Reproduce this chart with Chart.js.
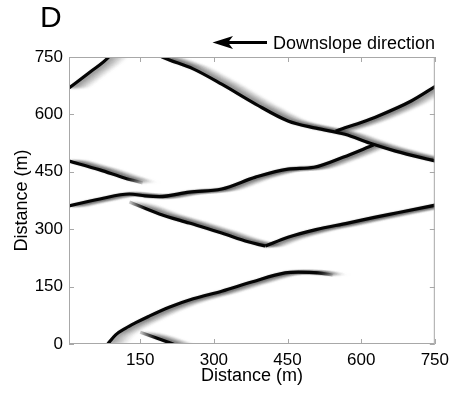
<!DOCTYPE html>
<html>
<head>
<meta charset="utf-8">
<script src="https://cdn.jsdelivr.net/npm/chart.js@4"></script>
<style>
    html, body { margin: 0; padding: 0; background: #fff; }
    #wrap { width: 455px; height: 394px; position: relative; }
</style>
</head>
<body>
<div id="wrap"><canvas id="frontChart"></canvas></div>
<script>
// Tick values (m)
const xTicks = [150, 300, 450, 600, 750];
const yTicks = [0, 150, 300, 450, 600, 750];

// Wave fronts: position along x (m) and y (m)
const frontAx = [5, 48, 86, 100];
const frontAy = [669, 711, 750, 775];

const frontBx = [160, 195, 258, 316, 385, 451, 508, 567, 617, 670, 752];
const frontBy = [775, 750, 719, 679, 627, 583, 564, 548, 525, 504, 478];

const frontCx = [548, 567, 600, 635, 702, 752];
const frontCy = [556, 565, 579, 596, 635, 674];

const frontDx = [5, 68, 128, 160, 189, 250, 316, 385, 451, 504, 563, 625];
const frontDy = [361, 379, 392, 387, 385, 397, 405, 436, 457, 462, 488, 520];

const frontEx = [5, 68, 118, 155];
const frontEy = [478, 455, 434, 421];

const frontGx = [128, 189, 250, 316, 370, 395, 405];
const frontGy = [371, 340, 316, 290, 267, 259, 256];

const frontHx = [405, 451, 508, 573, 627, 674, 752];
const frontHy = [256, 279, 299, 316, 331, 343, 363];

const frontIx = [84, 100, 120, 140, 167, 209, 258, 316, 377, 445, 472, 512, 542];
const frontIy = [0, 24, 41, 55, 72, 96, 118, 138, 162, 186, 188, 186, 180];

const frontJx = [150, 189, 223];
const frontJy = [31, 13, -3];

function toPoints(xs, ys) {
    return xs.map((x, i) => ({ x: x, y: ys[i] }));
}

// [x, y, fade] - fade softens the front where it dies out
const fronts = [
    [frontAx, frontAy, null], [frontBx, frontBy, null], [frontCx, frontCy, null],
    [frontDx, frontDy, null], [frontEx, frontEy, 'end'], [frontGx, frontGy, 'start'],
    [frontHx, frontHy, null], [frontIx, frontIy, 'end'], [frontJx, frontJy, 'start']
];

const fontFamily = "'Liberation Sans', Arial, Helvetica, sans-serif";
const ink = '#050505';

// Horizontal gradient so a front fades out over its last few pixels
function fadeColor(xs, fade) {
    return function(c) {
        const chart = c.chart;
        const sx = chart.scales && chart.scales.x;
        if (!fade || !sx) return ink;
        const p0 = sx.getPixelForValue(xs[0]);
        const p1 = sx.getPixelForValue(xs[xs.length - 1]);
        if (!isFinite(p0) || !isFinite(p1) || p1 <= p0) return ink;
        const f = Math.min(0.9, 16 / (p1 - p0));
        const g = chart.ctx.createLinearGradient(p0, 0, p1, 0);
        if (fade === 'end') {
            g.addColorStop(0, ink);
            g.addColorStop(1 - f, ink);
            g.addColorStop(1, 'rgba(5,5,5,0.15)');
        } else {
            g.addColorStop(0, 'rgba(5,5,5,0.2)');
            g.addColorStop(f, ink);
            g.addColorStop(1, ink);
        }
        return g;
    };
}

// Grey smear trailing each front in the +x direction
const trailPlugin = {
    id: 'trail',
    beforeDatasetsDraw(chart) {
        const { ctx, chartArea } = chart;
        ctx.save();
        ctx.beginPath();
        ctx.rect(chartArea.left, chartArea.top, chartArea.width, chartArea.height);
        ctx.clip();
        ctx.filter = 'blur(1.2px)';
        const steps = 22;
        chart.getSortedVisibleDatasetMetas().forEach(meta => {
            for (let k = steps; k >= 1; k--) {
                ctx.save();
                ctx.translate(k * 1.0, 0);
                ctx.globalAlpha = 0.13 * Math.pow(1 - k / (steps + 1), 1.3);
                meta.dataset.draw(ctx, chartArea);
                ctx.restore();
            }
        });
        ctx.restore();
    }
};

// Box, inward ticks on all four sides, panel letter and arrow
const framePlugin = {
    id: 'frame',
    afterDraw(chart) {
        const { ctx, chartArea: a, scales } = chart;
        const len = 5;
        ctx.save();
        ctx.strokeStyle = '#a8a8a8';
        ctx.lineWidth = 1;
        ctx.strokeRect(a.left + 0.5, a.top + 0.5, a.width - 1, a.height - 1);
        ctx.beginPath();
        xTicks.forEach(v => {
            const px = Math.round(scales.x.getPixelForValue(v)) + 0.5;
            ctx.moveTo(px, a.bottom); ctx.lineTo(px, a.bottom - len);
            ctx.moveTo(px, a.top); ctx.lineTo(px, a.top + len);
        });
        yTicks.forEach(v => {
            const py = Math.round(scales.y.getPixelForValue(v)) + 0.5;
            ctx.moveTo(a.left, py); ctx.lineTo(a.left + len, py);
            ctx.moveTo(a.right, py); ctx.lineTo(a.right - len, py);
        });
        ctx.stroke();

        ctx.fillStyle = '#000';
        ctx.textBaseline = 'alphabetic';
        ctx.font = '30px ' + fontFamily;
        ctx.fillText('D', 40, 27);

        ctx.font = '18px ' + fontFamily;
        ctx.fillText('Downslope direction', 273, 49);

        // arrow pointing left
        ctx.lineWidth = 3;
        ctx.strokeStyle = '#000';
        ctx.beginPath();
        ctx.moveTo(226, 42.5);
        ctx.lineTo(267, 42.5);
        ctx.stroke();
        ctx.beginPath();
        ctx.moveTo(212.5, 42.5);
        ctx.lineTo(233, 36);
        ctx.lineTo(228, 42.5);
        ctx.lineTo(233, 49);
        ctx.closePath();
        ctx.fill();
        ctx.restore();
    }
};

document.addEventListener('DOMContentLoaded', function() {
    Chart.defaults.font.family = fontFamily;
    Chart.defaults.color = '#000';

    const ctx = document.getElementById('frontChart');
    new Chart(ctx, {
        type: 'scatter',
        data: {
            datasets: fronts.map(f => ({
                data: toPoints(f[0], f[1]),
                showLine: true,
                borderColor: fadeColor(f[0], f[2]),
                borderWidth: 3.2,
                pointRadius: 0,
                cubicInterpolationMode: 'monotone',
                clip: 0
            }))
        },
        options: {
            responsive: true,
            maintainAspectRatio: false,
            animation: false,
            layout: { padding: { top: 57, right: 16, left: 0, bottom: 0 } },
            plugins: {
                legend: { display: false },
                tooltip: { enabled: false }
            },
            scales: {
                x: {
                    type: 'linear',
                    min: 5,
                    max: 750,
                    afterBuildTicks: s => { s.ticks = xTicks.map(v => ({ value: v })); },
                    afterFit: s => { s.height = 50; },
                    grid: { display: false, drawTicks: false },
                    border: { display: false },
                    ticks: { font: { size: 17 }, padding: 6, maxRotation: 0 },
                    title: {
                        display: true,
                        text: 'Distance (m)',
                        font: { size: 18 },
                        padding: { top: 0, bottom: 7 }
                    }
                },
                y: {
                    type: 'linear',
                    min: 0,
                    max: 750,
                    afterBuildTicks: s => { s.ticks = yTicks.map(v => ({ value: v })); },
                    afterFit: s => { s.width = 69; },
                    grid: { display: false, drawTicks: false },
                    border: { display: false },
                    ticks: { font: { size: 17 }, padding: 6 },
                    title: {
                        display: true,
                        text: 'Distance (m)',
                        font: { size: 18 },
                        padding: { top: 11, bottom: 0 }
                    }
                }
            }
        },
        plugins: [trailPlugin, framePlugin]
    });
});
</script>
</body>
</html>
